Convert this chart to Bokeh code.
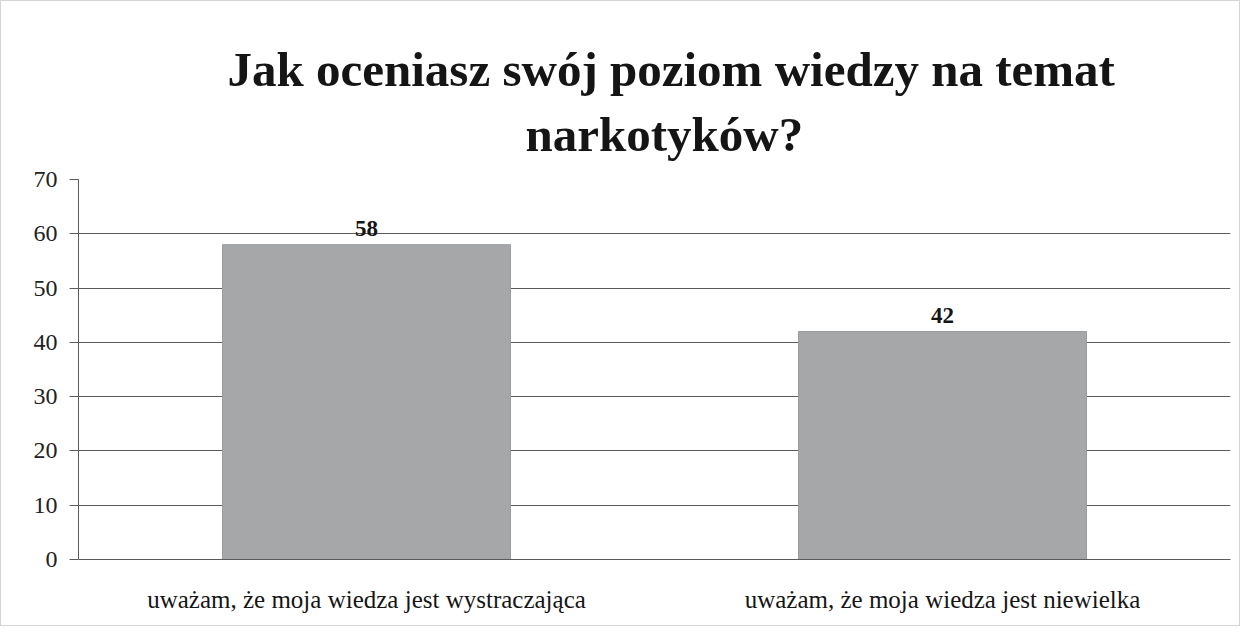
from bokeh.plotting import figure
from bokeh.models import ColumnDataSource, Range1d, FactorRange, LabelSet, FixedTicker, Title
from bokeh.embed import file_html
from bokeh.resources import INLINE

categories = ["uważam, że moja wiedza jest wystraczająca", "uważam, że moja wiedza jest niewielka"]
values = [58, 42]
value_labels = ["58", "42"]
y_ticks = [0, 10, 20, 30, 40, 50, 60, 70]
title_line1 = "Jak oceniasz swój poziom wiedzy na temat"
title_line2 = "narkotyków?"

FONT = "Liberation Serif"
GRID = "#5a5a5a"

src = ColumnDataSource(dict(cat=categories, val=values, lbl=value_labels))

p = figure(width=1240, height=626,
           x_range=FactorRange(factors=categories, range_padding=0),
           y_range=Range1d(0, 70),
           output_backend="svg", toolbar_location=None,
           min_border_left=77, min_border_right=11,
           min_border_bottom=68, min_border_top=178)

def style_title(t):
    t.align = "left"
    t.text_font = FONT
    t.text_font_size = "49px"
    t.text_font_style = "bold"
    t.text_color = "#151515"

# top line (outermost)
p.title.text = title_line1
style_title(p.title)
p.title.offset = 149
p.title.standoff = -19
# second line (closest to the plot frame)
t2 = Title(text=title_line2)
style_title(t2)
t2.offset = 447
t2.standoff = 35
p.add_layout(t2, "above")

p.vbar(x="cat", top="val", width=0.5, source=src,
       fill_color="#a5a7a9", line_color="#9a9c9e", line_width=1)

labels = LabelSet(x="cat", y="val", text="lbl", source=src,
                  text_align="center", text_baseline="bottom", y_offset=9,
                  text_font=FONT, text_font_size="23px", text_font_style="bold",
                  text_color="#151515")
p.add_layout(labels)

p.outline_line_color = None
p.xgrid.grid_line_color = None
p.ygrid.grid_line_color = GRID
p.ygrid.grid_line_width = 1

p.yaxis.ticker = FixedTicker(ticks=y_ticks)
p.yaxis.major_label_text_font = FONT
p.yaxis.major_label_text_font_size = "24px"
p.yaxis.major_label_text_color = "#222222"
p.yaxis.axis_line_color = GRID
p.yaxis.major_tick_line_color = GRID
p.yaxis.major_tick_out = 9
p.yaxis.major_tick_in = 0
p.yaxis.minor_tick_line_color = None
p.yaxis.major_label_standoff = 12

p.xaxis.major_label_text_font = FONT
p.xaxis.major_label_text_font_size = "25px"
p.xaxis.major_label_text_color = "#151515"
p.xaxis.axis_line_color = GRID
p.xaxis.major_tick_line_color = None
p.xaxis.major_label_standoff = 20

p.styles = {"border": "1px solid #d4d4d4"}

open("out.html", "w").write(file_html(p, INLINE))
